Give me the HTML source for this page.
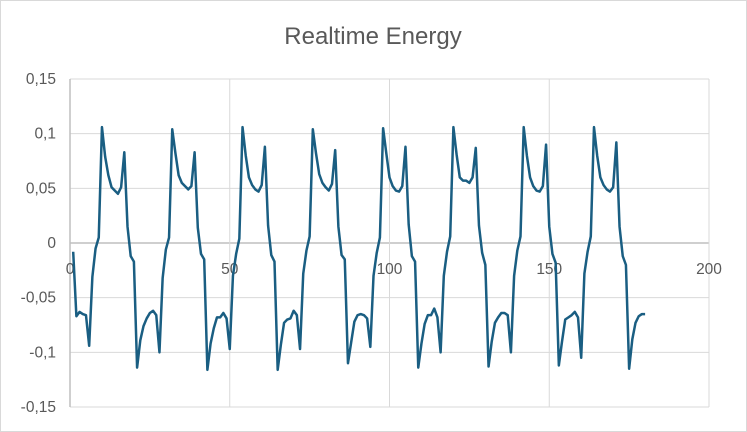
<!DOCTYPE html>
<html><head><meta charset="utf-8"><style>
body{margin:0;background:#fff}
svg{display:block;font-family:"Liberation Sans",sans-serif}
</style></head><body>
<svg id="chart" width="747" height="432" viewBox="0 0 747 432">
<rect x="0.5" y="0.5" width="746" height="431" fill="#fff" stroke="#d9d9d9"/>
<text x="373" y="44" text-anchor="middle" font-size="24" fill="#595959">Realtime Energy</text>
<g id="grid"></g><g id="ylabels"></g><g id="xlabels"></g><g id="series"></g>
</svg>
<script>
const xTicks=[0,50,100,150,200];
const yTicks=[0.15,0.1,0.05,0,-0.05,-0.1,-0.15];
const yTickLabels=["0,15","0,1","0,05","0","-0,05","-0,1","-0,15"];
const prefix=[-0.008,-0.067,-0.063,-0.065,-0.066,-0.094,-0.031,-0.005,0.005];
const cycles=[
[0.106,0.079,0.062,0.051,0.048,0.045,0.051,0.083,0.015,-0.012,-0.017,-0.114,-0.089,-0.076,-0.069,-0.064,-0.062,-0.066,-0.100,-0.032,-0.006,0.005],
[0.104,0.082,0.062,0.055,0.052,0.049,0.052,0.083,0.014,-0.010,-0.015,-0.116,-0.092,-0.078,-0.068,-0.068,-0.064,-0.069,-0.097,-0.030,-0.010,0.004],
[0.106,0.080,0.060,0.053,0.049,0.047,0.053,0.088,0.016,-0.011,-0.017,-0.116,-0.093,-0.073,-0.070,-0.069,-0.062,-0.066,-0.097,-0.028,-0.007,0.006],
[0.104,0.082,0.063,0.055,0.051,0.048,0.054,0.085,0.015,-0.011,-0.015,-0.110,-0.091,-0.072,-0.066,-0.065,-0.066,-0.069,-0.095,-0.030,-0.009,0.005],
[0.105,0.082,0.060,0.052,0.048,0.047,0.052,0.088,0.017,-0.012,-0.017,-0.114,-0.092,-0.074,-0.066,-0.066,-0.060,-0.068,-0.100,-0.030,-0.008,0.006],
[0.106,0.081,0.060,0.057,0.057,0.055,0.060,0.087,0.016,-0.009,-0.020,-0.113,-0.090,-0.073,-0.068,-0.064,-0.064,-0.066,-0.100,-0.030,-0.007,0.006],
[0.106,0.080,0.060,0.052,0.048,0.047,0.052,0.090,0.015,-0.010,-0.018,-0.112,-0.090,-0.070,-0.068,-0.066,-0.063,-0.068,-0.105,-0.028,-0.008,0.006],
[0.106,0.080,0.060,0.053,0.049,0.047,0.051,0.092,0.015,-0.012,-0.020,-0.115,-0.088,-0.073,-0.067,-0.065,-0.065]
];
const values=prefix.concat(...cycles);
const X0=70,X1=709,Y0=407,Y1=79;
const xs=v=>X0+(v-0)/(200-0)*(X1-X0);
const ys=v=>Y0-(v+0.15)/0.3*(Y0-Y1);
const NS="http://www.w3.org/2000/svg";
const grid=document.getElementById('grid');
yTicks.forEach((t,i)=>{
  const l=document.createElementNS(NS,'line');
  
  
  l.setAttribute('x1',X0);l.setAttribute('x2',X1);l.setAttribute('y1',ys(t));l.setAttribute('y2',ys(t));
  l.setAttribute('stroke',t===0?'#bfbfbf':'#d9d9d9');l.setAttribute('stroke-width',t===0?1.5:1);
  grid.appendChild(l);
  const tx=document.createElementNS(NS,'text');
  
  
  tx.setAttribute('x',56);tx.setAttribute('y',ys(t)+5);tx.setAttribute('text-anchor','end');
  tx.setAttribute('font-size','15.5');tx.setAttribute('fill','#595959');
  tx.textContent=yTickLabels[i];
  document.getElementById('ylabels').appendChild(tx);
});
xTicks.forEach(t=>{
  const l=document.createElementNS(NS,'line');
  
  
  l.setAttribute('x1',xs(t));l.setAttribute('x2',xs(t));l.setAttribute('y1',Y1);l.setAttribute('y2',Y0);
  l.setAttribute('stroke',t===0?'#bfbfbf':'#d9d9d9');l.setAttribute('stroke-width',t===0?1.5:1);
  grid.appendChild(l);
  const tx=document.createElementNS(NS,'text');
  
  
  tx.setAttribute('x',xs(t));tx.setAttribute('y',ys(0)+31);tx.setAttribute('text-anchor','middle');
  tx.setAttribute('font-size','15.5');tx.setAttribute('fill','#595959');
  tx.textContent=t;
  document.getElementById('xlabels').appendChild(tx);
});
const p=document.createElementNS(NS,'path');


p.setAttribute('d',values.map((v,i)=>(i?'L':'M')+xs(i+1).toFixed(2)+','+ys(v).toFixed(2)).join(''));
p.setAttribute('fill','none');p.setAttribute('stroke','#1a5e82');p.setAttribute('stroke-width','2.5');
p.setAttribute('stroke-linejoin','round');
document.getElementById('series').appendChild(p);
</script>
</body></html>
